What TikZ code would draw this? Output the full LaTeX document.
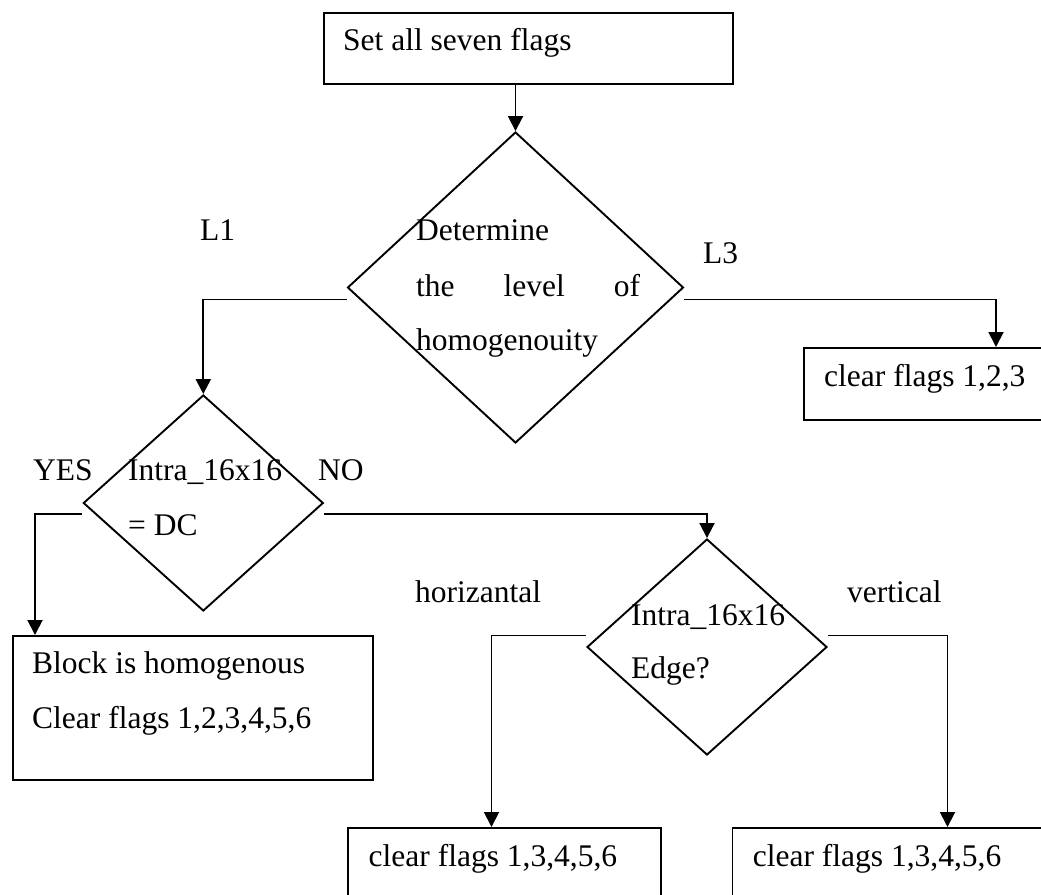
\documentclass[tikz,border=0pt]{standalone}
\usepackage{fontspec}
\setmainfont{Liberation Serif}
\usetikzlibrary{arrows.meta,shapes.geometric}
\begin{document}
\begin{tikzpicture}[x=1pt,y=-1pt,
  font=\fontsize{31.5}{38}\selectfont,
  flow/.style={draw=black,line width=1.9pt,rectangle,inner sep=0pt,anchor=north west},
  decision/.style={draw=black,line width=1.9pt,diamond,inner sep=0pt},
  txt/.style={inner sep=0pt,anchor=base west},
  conn/.style={line width=1.9pt,-{Triangle[width=15pt,length=15pt]}},
]
\useasboundingbox (0,0) rectangle (1041,894);
\clip (0,0) rectangle (1041,894);

% boxes and decisions
\node[flow,minimum width=409.3pt,minimum height=71.6pt] (start) at (322.7,11.7) {};
\node[decision,minimum width=336pt,minimum height=311pt] (lvl) at (515.5,287.5) {};
\node[flow,minimum width=260pt,minimum height=72pt] (c123) at (803,347) {};
\node[decision,minimum width=240pt,minimum height=216pt] (dc) at (203.3,503) {};
\node[flow,minimum width=359.7pt,minimum height=144pt] (homog) at (12,635) {};
\node[decision,minimum width=240pt,minimum height=216pt] (edge) at (707,647) {};
\node[flow,minimum width=313pt,minimum height=90pt] (hflags) at (347,827) {};
\node[flow,minimum width=330pt,minimum height=90pt] (vflags) at (731.5,827) {};

% texts
\node[txt] (t0) at (343,50) {Set all seven flags};
\node[txt] (t1a) at (416,240) {Determine};
\node[txt] (t1b) at (416,296) {\makebox[224pt][l]{the\hfill level\hfill of}};
\node[txt] (t1c) at (416,350) {homogenouity};
\node[txt] (l1) at (200,240.7) {L1};
\node[txt] (l3) at (703,263) {L3};
\node[txt] (t2) at (824,386) {clear flags 1,2,3};
\node[txt] (yes) at (33,480) {YES};
\node[txt] (t3a) at (128,480) {Intra\_16x16};
\node[txt] (no) at (318,480) {NO};
\node[txt] (t3b) at (128,535.7) {= DC};
\node[txt] (t4a) at (32,673) {Block is homogenous};
\node[txt] (t4b) at (32,728) {Clear flags 1,2,3,4,5,6};
\node[txt] (hz) at (415,602) {horizantal};
\node[txt] (vt) at (847,602) {vertical};
\node[txt] (t5a) at (631,625) {Intra\_16x16};
\node[txt] (t5b) at (631,678.3) {Edge?};
\node[txt] (t6) at (368.5,866.7) {clear flags 1,3,4,5,6};
\node[txt] (t7) at (752.7,866.7) {clear flags 1,3,4,5,6};

% connectors
\draw[conn] (lvl.north |- start.south) -- (lvl.north);
\draw[conn] ([yshift=-12pt]lvl.west) -| (dc.north);
\draw[conn] ([yshift=-12pt]lvl.east) -| ([xshift=193pt]c123.north west);
\draw[conn] ([yshift=-11pt]dc.west) -| ([xshift=23pt]homog.north west);
\draw[conn] ([yshift=-11pt]dc.east) -| (edge.north);
\draw[conn] ([yshift=11.5pt]edge.west) -| ([xshift=144.5pt]hflags.north west);
\draw[conn] ([yshift=11.5pt]edge.east) -| ([xshift=216pt]vflags.north west);
\end{tikzpicture}
\end{document}
